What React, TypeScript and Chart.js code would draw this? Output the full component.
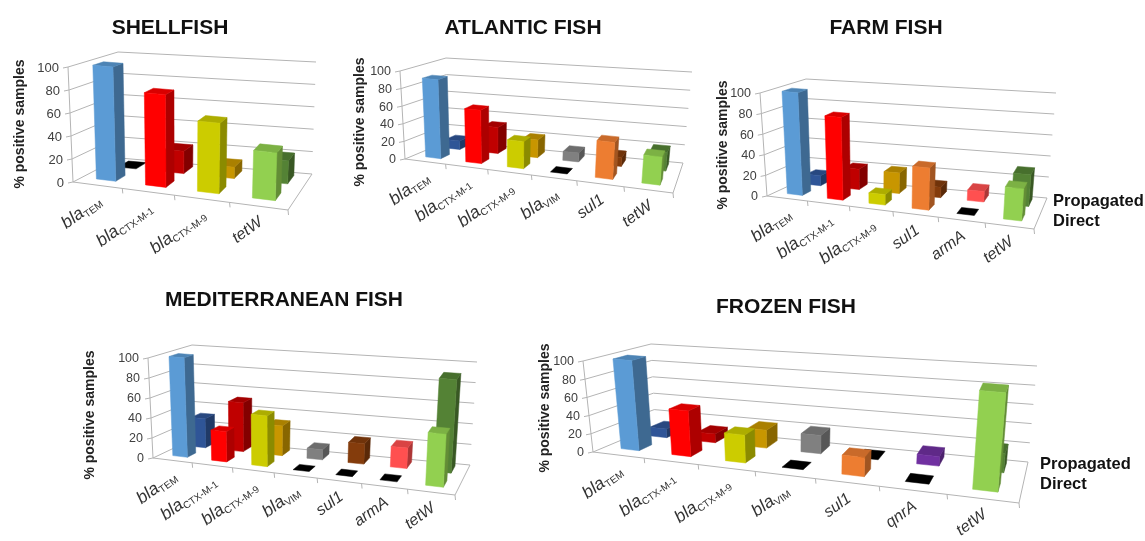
import React, { useEffect, useRef } from "react";
import { Chart, registerables } from "chart.js";

Chart.register(...registerables);

// Detection frequencies (% positive samples) per gene and sample type.
const shellfishGenes = ["blaTEM", "blaCTX-M-1", "blaCTX-M-9", "tetW"];
const shellfishDirect = [100, 80, 60, 40];
const shellfishPropagated = [0, 20, 10, 20];

const atlanticGenes = ["blaTEM", "blaCTX-M-1", "blaCTX-M-9", "blaVIM", "sul1", "tetW"];
const atlanticDirect = [90, 60, 30, 0, 40, 30];
const atlanticPropagated = [10, 30, 20, 10, 10, 20];

const farmGenes = ["blaTEM", "blaCTX-M-1", "blaCTX-M-9", "sul1", "armA", "tetW"];
const farmDirect = [100, 80, 10, 40, 0, 30];
const farmPropagated = [10, 20, 20, 10, 10, 30];

const mediterraneanGenes = ["blaTEM", "blaCTX-M-1", "blaCTX-M-9", "blaVIM", "sul1", "armA", "tetW"];
const mediterraneanDirect = [100, 30, 50, 0, 0, 0, 50];
const mediterraneanPropagated = [30, 50, 30, 10, 20, 20, 90];

const frozenGenes = ["blaTEM", "blaCTX-M-1", "blaCTX-M-9", "blaVIM", "sul1", "qnrA", "tetW"];
const frozenDirect = [100, 50, 30, 0, 20, 0, 100];
const frozenPropagated = [10, 10, 20, 20, 0, 10, 20];

const valueTicks = [0, 20, 40, 60, 80, 100];
const seriesNames = ["Direct", "Propagated"];

const geneColors: Record<string, [string, string]> = {
  blaTEM: ["#5B9BD5", "#2F5597"],
  "blaCTX-M-1": ["#FF0000", "#C00000"],
  "blaCTX-M-9": ["#CCCC00", "#C89600"],
  blaVIM: ["#808080", "#808080"],
  sul1: ["#ED7D31", "#843C0C"],
  armA: ["#FF5050", "#FF5050"],
  qnrA: ["#7030A0", "#7030A0"],
  tetW: ["#92D050", "#548235"],
};

type Pt = [number, number];
type Panel = {
  title: string;
  titleAt: Pt;
  box: [number, number, number, number];
  genes: string[];
  direct: number[];
  propagated: number[];
  floor: [Pt, Pt, Pt, Pt]; // front-left, front-right, back-right, back-left
  ceiling: [Pt, Pt, Pt, Pt];
  axisTitleAt: Pt;
  foreshorten: number;
  barShare: number;
  tickSize: number;
  legendAt?: Pt;
};

const panels: Panel[] = [
  {
    title: "SHELLFISH",
    titleAt: [170, 28],
    box: [0, 0, 340, 270],
    genes: shellfishGenes,
    direct: shellfishDirect,
    propagated: shellfishPropagated,
    floor: [[73, 182], [288, 210], [312, 174], [119, 158]],
    ceiling: [[68, 67], [293, 88], [316, 62], [118, 52]],
    axisTitleAt: [20, 124],
    foreshorten: 0.12,
    barShare: 0.4,
    tickSize: 13,
  },
  {
    title: "ATLANTIC FISH",
    titleAt: [523, 28],
    box: [340, 0, 360, 270],
    genes: atlanticGenes,
    direct: atlanticDirect,
    propagated: atlanticPropagated,
    floor: [[405, 159], [673, 193], [683, 163], [448, 141]],
    ceiling: [[400, 71], [681, 98], [692, 72], [446, 58]],
    axisTitleAt: [360, 122],
    foreshorten: 0.12,
    barShare: 0.38,
    tickSize: 12.5,
  },
  {
    title: "FARM FISH",
    titleAt: [886, 28],
    box: [700, 0, 445, 280],
    genes: farmGenes,
    direct: farmDirect,
    propagated: farmPropagated,
    floor: [[767, 196], [1034, 229], [1047, 198], [808, 177]],
    ceiling: [[760, 93], [1042, 121], [1056, 93], [806, 79]],
    axisTitleAt: [723, 145],
    foreshorten: 0.12,
    barShare: 0.38,
    tickSize: 12.5,
    legendAt: [1053, 201],
  },
  {
    title: "MEDITERRANEAN FISH",
    titleAt: [284, 300],
    box: [70, 280, 460, 261],
    genes: mediterraneanGenes,
    direct: mediterraneanDirect,
    propagated: mediterraneanPropagated,
    floor: [[153, 458], [455, 495], [470, 465], [193, 439]],
    ceiling: [[148, 358], [461, 388], [477, 362], [192, 345]],
    axisTitleAt: [90, 415],
    foreshorten: 0.12,
    barShare: 0.38,
    tickSize: 12.5,
  },
  {
    title: "FROZEN FISH",
    titleAt: [786, 307],
    box: [530, 285, 615, 256],
    genes: frozenGenes,
    direct: frozenDirect,
    propagated: frozenPropagated,
    floor: [[593, 452], [1019, 503], [1028, 462], [655, 426]],
    ceiling: [[583, 361], [1028, 402], [1037, 366], [651, 344]],
    axisTitleAt: [545, 408],
    foreshorten: 0.22,
    barShare: 0.36,
    tickSize: 12.5,
    legendAt: [1040, 464],
  },
];

const FONT = '"Liberation Sans", Arial, sans-serif';
const GRID = "#B4B4B4";
const DEPTH_ROWS: [number, number][] = [
  [0.2, 0.42],
  [0.68, 0.92],
];

// Bilinear map of the unit square onto a quadrilateral.
function quadMap(q: [Pt, Pt, Pt, Pt]) {
  const [a, b, c, d] = q;
  return (u: number, v: number): Pt => {
    const front = [a[0] + (b[0] - a[0]) * u, a[1] + (b[1] - a[1]) * u];
    const back = [d[0] + (c[0] - d[0]) * u, d[1] + (c[1] - d[1]) * u];
    return [front[0] + (back[0] - front[0]) * v, front[1] + (back[1] - front[1]) * v];
  };
}

function shade(hex: string, f: number) {
  const n = parseInt(hex.slice(1), 16);
  const c = [(n >> 16) & 255, (n >> 8) & 255, n & 255].map((k) => Math.round(k * f));
  return `rgb(${c[0]},${c[1]},${c[2]})`;
}

// Draws the perspective box, its bars and its text from the chart's own scales and bar elements.
const boxPlugin = {
  id: "perspectiveBox",
  beforeDatasetsDraw(chart: any, _args: any, opts: any) {
    const panel: Panel = opts.panel;
    const { ctx, chartArea: area, scales } = chart;
    const onFloor = quadMap(panel.floor);
    const onCeiling = quadMap(panel.ceiling);
    const project = (u: number, v: number, t: number): Pt => {
      const across = u / (1 + panel.foreshorten * (1 - u));
      const a = onFloor(across, v), b = onCeiling(across, v);
      return [a[0] + (b[0] - a[0]) * t, a[1] + (b[1] - a[1]) * t];
    };
    const toU = (px: number) => (px - area.left) / (area.right - area.left);
    const toT = (px: number) => (area.bottom - px) / (area.bottom - area.top);
    const polyline = (pts: Pt[], close = false) => {
      ctx.beginPath();
      pts.forEach((p, i) => (i ? ctx.lineTo(p[0], p[1]) : ctx.moveTo(p[0], p[1])));
      if (close) ctx.closePath();
    };
    const face = (pts: Pt[], color: string) => {
      polyline(pts, true);
      ctx.fillStyle = color;
      ctx.fill();
      ctx.strokeStyle = color;
      ctx.lineWidth = 0.5;
      ctx.stroke();
    };

    ctx.save();
    ctx.translate(-panel.box[0], -panel.box[1]);

    // Walls, floor and gridlines
    ctx.strokeStyle = GRID;
    ctx.lineWidth = 1;
    scales.y.ticks.forEach((tick: any) => {
      const t = toT(scales.y.getPixelForValue(tick.value));
      polyline([project(0, 0, t), project(0, 1, t), project(1, 1, t)]);
      ctx.stroke();
      const p = project(0, 0, t);
      polyline([p, [p[0] - 5, p[1] + 1]]);
      ctx.stroke();
      ctx.fillStyle = "#404040";
      ctx.font = `${panel.tickSize}px ${FONT}`;
      ctx.textAlign = "right";
      ctx.textBaseline = "middle";
      ctx.fillText(String(tick.value), p[0] - 9, p[1] + 1);
    });
    polyline([project(0, 0, 0), project(0, 0, 1)]);
    ctx.stroke();
    polyline([project(0, 0, 0), project(1, 0, 0), project(1, 1, 0)]);
    ctx.stroke();

    // Category ticks and labels
    const n = panel.genes.length;
    const stepPx = (area.right - area.left) / n;
    panel.genes.forEach((gene, i) => {
      const edge = project(toU(area.left + stepPx * (i + 1)), 0, 0);
      polyline([edge, [edge[0] + 0.5, edge[1] + 5]]);
      ctx.strokeStyle = GRID;
      ctx.lineWidth = 1;
      ctx.stroke();
      const mid = project(toU(scales.x.getPixelForValue(i)), 0, 0);
      ctx.save();
      ctx.translate(mid[0] + 5, mid[1] + 18);
      ctx.rotate((-36 * Math.PI) / 180);
      ctx.fillStyle = "#333333";
      ctx.textBaseline = "alphabetic";
      ctx.textAlign = "left";
      const isBla = gene.startsWith("bla");
      const head = isBla ? "bla" : gene;
      const tail = isBla ? gene.slice(3) : "";
      const headFont = `italic ${isBla ? 17.5 : 16}px ${FONT}`;
      const tailFont = `10px ${FONT}`;
      ctx.font = headFont;
      const headW = ctx.measureText(head).width;
      ctx.font = tailFont;
      const tailW = tail ? ctx.measureText(tail).width : 0;
      const start = -(headW + tailW);
      ctx.font = headFont;
      ctx.fillText(head, start, 0);
      if (tail) {
        ctx.font = tailFont;
        ctx.fillText(tail, start + headW, 3);
      }
      ctx.restore();
    });

    // Back row first, then the front row, each left to right
    for (const dsIndex of [1, 0]) {
      const meta = chart.getDatasetMeta(dsIndex);
      const [v0, v1] = DEPTH_ROWS[dsIndex];
      const colors = chart.data.datasets[dsIndex].backgroundColor as string[];
      meta.data.forEach((bar: any, i: number) => {
        const { x, y, base, width } = bar.getProps(["x", "y", "base", "width"], true);
        const u0 = toU(x - width / 2), u1 = toU(x + width / 2);
        const t = toT(y), b = toT(base);
        const value = chart.data.datasets[dsIndex].data[i] as number;
        const topFace = [project(u0, v0, t), project(u1, v0, t), project(u1, v1, t), project(u0, v1, t)];
        if (value === 0) {
          face(topFace, "#000000");
          return;
        }
        const c = colors[i];
        face([project(u1, v0, b), project(u1, v1, b), project(u1, v1, t), project(u1, v0, t)], shade(c, 0.68));
        face(topFace, shade(c, 0.85));
        face([project(u0, v0, b), project(u1, v0, b), project(u1, v0, t), project(u0, v0, t)], c);
      });
    }

    // Titles and legend text
    ctx.fillStyle = "#111111";
    ctx.font = `bold 21px ${FONT}`;
    ctx.textAlign = "center";
    ctx.textBaseline = "middle";
    ctx.fillText(panel.title, panel.titleAt[0], panel.titleAt[1]);

    ctx.save();
    ctx.translate(panel.axisTitleAt[0], panel.axisTitleAt[1]);
    ctx.rotate(-Math.PI / 2);
    ctx.font = `bold 14px ${FONT}`;
    ctx.fillStyle = "#222222";
    ctx.fillText("% positive samples", 0, 0);
    ctx.restore();

    if (panel.legendAt) {
      ctx.font = `bold 16.5px ${FONT}`;
      ctx.textAlign = "left";
      ctx.fillStyle = "#111111";
      [...chart.data.datasets].reverse().forEach((ds: any, k: number) => {
        ctx.fillText(ds.label, panel.legendAt![0], panel.legendAt![1] + k * 20);
      });
    }

    ctx.restore();
    return false;
  },
};

function PanelChart({ panel }: { panel: Panel }) {
  const ref = useRef<HTMLCanvasElement | null>(null);
  useEffect(() => {
    const colorsFor = (k: number) => panel.genes.map((g) => geneColors[g][k]);
    const chart = new Chart(ref.current as HTMLCanvasElement, {
      type: "bar",
      data: {
        labels: panel.genes,
        datasets: [
          { label: seriesNames[0], data: panel.direct, backgroundColor: colorsFor(0), grouped: false },
          { label: seriesNames[1], data: panel.propagated, backgroundColor: colorsFor(1), grouped: false },
        ],
      },
      options: {
        responsive: false,
        animation: false,
        events: [],
        layout: { padding: 0 },
        datasets: { bar: { categoryPercentage: 1, barPercentage: panel.barShare } },
        plugins: {
          legend: { display: false },
          title: { display: false },
          tooltip: { enabled: false },
          perspectiveBox: { panel },
        },
        scales: {
          x: { display: false },
          y: {
            display: false,
            min: valueTicks[0],
            max: valueTicks[valueTicks.length - 1],
            ticks: { stepSize: valueTicks[1] - valueTicks[0] },
          },
        },
      } as any,
      plugins: [boxPlugin as any],
    });
    return () => chart.destroy();
  }, [panel]);
  const [left, top, width, height] = panel.box;
  return (
    <canvas
      ref={ref}
      width={width}
      height={height}
      style={{ position: "absolute", left, top, width, height }}
    />
  );
}

export default function App() {
  return (
    <div style={{ position: "fixed", left: 0, top: 0, width: 1145, height: 541, overflow: "hidden", background: "#fff" }}>
      {panels.map((p) => (
        <PanelChart key={p.title} panel={p} />
      ))}
    </div>
  );
}
